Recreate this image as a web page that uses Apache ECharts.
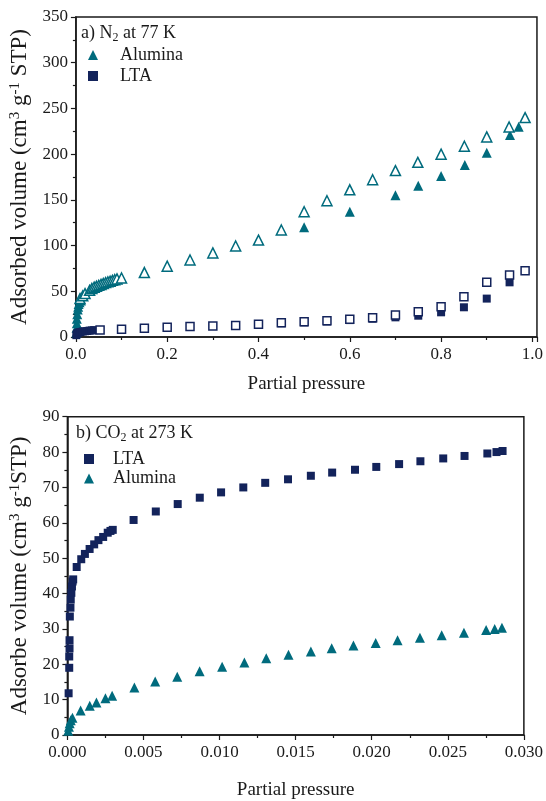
<!DOCTYPE html>
<html>
<head>
<meta charset="utf-8">
<script src="https://cdn.jsdelivr.net/npm/echarts@6/dist/echarts.min.js"></script>
<style>html,body{margin:0;padding:0;background:#fff}#c{width:546px;height:801px}</style>
</head>
<body>
<div id="c"></div>
<script>
// ---- Panel a) N2 at 77 K : [partial pressure, adsorbed volume] ----
const n2AluminaAds = [[0.001,5],[0.0015,10],[0.002,15],[0.002,20],[0.003,25],[0.004,30],[0.005,33],[0.006,36],[0.008,38],[0.011,40],
  [0.5,120],[0.6,137],[0.7,155],[0.75,165.5],[0.8,176],[0.852,188],[0.9,201.6],[0.951,221],[0.97,230]];
const n2AluminaDes = [[0.009,42],[0.015,45],[0.02,47.5],[0.03,51],[0.035,53],[0.04,54.5],[0.045,55.5],[0.05,56.5],[0.055,57.5],[0.06,58.5],
  [0.065,59.5],[0.07,60.3],[0.075,61],[0.08,62],[0.085,62.7],[0.09,63.5],[0.1,64.5],[0.15,70.5],[0.2,77.5],[0.25,84.2],[0.3,92],
  [0.35,99.5],[0.4,106],[0.45,117],[0.5,137],[0.55,149],[0.6,161],[0.65,172],[0.7,182],[0.749,191],[0.8,200],[0.851,208.6],
  [0.9,218.8],[0.949,229.7],[0.984,240]];
const n2LtaAds = [[0.001,2],[0.002,3.5],[0.004,4.5],[0.007,5],[0.01,5.5],[0.015,6],[0.02,6.3],[0.025,6.6],[0.03,7],[0.035,7.2],[0.04,7.5],
  [0.45,15],[0.5,16],[0.55,17],[0.6,18.5],[0.65,20],[0.7,21.5],[0.75,23.3],[0.8,27],[0.85,32.5],[0.9,42],[0.95,59.8],[0.984,72.5]];
const n2LtaDes = [[0.053,7.7],[0.1,8.4],[0.15,9.5],[0.2,10.6],[0.25,11.5],[0.3,12],[0.35,12.7],[0.4,14],[0.45,15.7],[0.5,16.8],
  [0.55,17.9],[0.6,19.3],[0.65,21],[0.7,24],[0.75,27.7],[0.8,33],[0.85,44],[0.9,59.8],[0.95,67.8],[0.984,72.5]];

// ---- Panel b) CO2 at 273 K ----
const co2Lta = [[0.00008,11.8],[0.00012,19],[0.00012,22.2],[0.00014,24.5],[0.00014,26.8],[0.00016,33.5],[0.0002,36],[0.00022,38.3],
  [0.00026,40.2],[0.0003,42],[0.00034,43.4],[0.00038,44],[0.00061,47.5],[0.00091,49.7],[0.00115,51.2],[0.00146,52.6],[0.00176,53.9],
  [0.00204,55.1],[0.00235,56],[0.00265,57.2],[0.00283,57.7],[0.00298,58],[0.00435,60.8],[0.00581,63.2],[0.00725,65.3],[0.0087,67.1],
  [0.0101,68.6],[0.01156,70],[0.013,71.3],[0.0145,72.3],[0.016,73.3],[0.0174,74.2],[0.0189,75],[0.0203,75.8],[0.0218,76.6],
  [0.0232,77.4],[0.0247,78.2],[0.0261,78.9],[0.0276,79.6],[0.0282,80],[0.0286,80.3]];
const co2Alumina = [[0.00005,1.2],[0.0001,2.3],[0.00015,3.3],[0.00022,4.2],[0.00033,4.9],[0.00087,6.9],[0.00147,8.3],[0.00191,9.2],
  [0.0025,10.4],[0.00294,11.1],[0.0044,13.4],[0.00577,15.1],[0.00722,16.5],[0.00869,18],[0.01017,19.3],[0.01163,20.5],[0.01307,21.7],
  [0.01453,22.7],[0.016,23.6],[0.01737,24.5],[0.0188,25.3],[0.02026,26],[0.0217,26.8],[0.02317,27.5],[0.0246,28.2],[0.02606,28.9],
  [0.02752,29.7],[0.02808,30],[0.02856,30.3]];

const TEAL = '#006b7d', NAVY = '#13235b', FONT = 'Liberation Serif', INK = '#1a1a1a';

const chart = echarts.init(document.getElementById('c'), null, {renderer: 'canvas'});

function xAx(grid, min, max, interval, digits, gap) {
  return {
    type: 'value', gridIndex: grid, min: min, max: max, interval: interval,
    name: 'Partial pressure', nameLocation: 'middle', nameGap: gap,
    nameTextStyle: {fontFamily: FONT, fontSize: 19, color: INK},
    axisLine: {show: true, onZero: false, lineStyle: {color: INK, width: 1.5}},
    axisTick: {show: true, inside: false, length: 5, lineStyle: {color: INK, width: 1.2}},
    minorTick: {show: true, splitNumber: 2, length: 3, lineStyle: {color: INK, width: 1.2}},
    splitLine: {show: false}, minorSplitLine: {show: false},
    axisLabel: {fontFamily: FONT, fontSize: 17, color: INK, margin: 9,
      formatter: v => (Math.abs(v / interval - Math.round(v / interval)) < 1e-6) ? v.toFixed(digits) : ''}
  };
}
function yAx(grid, max, interval, name, gap) {
  return {
    type: 'value', gridIndex: grid, min: 0, max: max, interval: interval,
    name: name, nameLocation: 'middle', nameGap: gap, nameRotate: 90,
    nameTextStyle: {fontFamily: FONT, fontSize: 23, color: INK,
      rich: {sup: {fontFamily: FONT, fontSize: 15, color: INK, verticalAlign: 'top', lineHeight: 24}}},
    axisLine: {show: true, lineStyle: {color: INK, width: 1.5}},
    axisTick: {show: true, inside: false, length: 5, lineStyle: {color: INK, width: 1.2}},
    minorTick: {show: true, splitNumber: 2, length: 3, lineStyle: {color: INK, width: 1.2}},
    splitLine: {show: false},
    axisLabel: {fontFamily: FONT, fontSize: 17, color: INK, margin: 8}
  };
}
function sc(name, x, y, data, symbol, size, color, open, z) {
  return {
    name: name, type: 'scatter', xAxisIndex: x, yAxisIndex: y, data: data,
    symbol: symbol, symbolSize: size, z: z,
    itemStyle: open ? {color: '#ffffff', borderColor: color, borderWidth: 1.5, opacity: 1} : {color: color, opacity: 1},
    emphasis: {disabled: true}
  };
}

chart.setOption({
  animation: false,
  backgroundColor: '#ffffff',
  grid: [
    {left: 74, top: 17, width: 464, height: 320, show: true, borderColor: INK, borderWidth: 1.5, backgroundColor: 'transparent'},
    {left: 66.7, top: 416.7, width: 458.3, height: 325, show: true, borderColor: INK, borderWidth: 1.5, backgroundColor: 'transparent'}
  ],
  title: [
    {text: 'a) N{s|2} at 77 K', left: 81, top: 22, padding: 0,
     textStyle: {fontFamily: FONT, fontSize: 18, fontWeight: 'normal', color: INK, lineHeight: 22,
       rich: {s: {fontFamily: FONT, fontSize: 12, color: INK, verticalAlign: 'bottom', lineHeight: 16}}}},
    {text: 'b) CO{s|2} at 273 K', left: 76, top: 422, padding: 0,
     textStyle: {fontFamily: FONT, fontSize: 18, fontWeight: 'normal', color: INK, lineHeight: 22,
       rich: {s: {fontFamily: FONT, fontSize: 12, color: INK, verticalAlign: 'bottom', lineHeight: 16}}}}
  ],
  legend: [
    {orient: 'vertical', left: 88, top: 46, padding: 0, itemGap: 3, itemWidth: 10, itemHeight: 10,
     data: [{name: 'Alumina', icon: 'triangle'}, {name: 'LTA', icon: 'rect'}],
     textStyle: {fontFamily: FONT, fontSize: 18, color: INK, lineHeight: 15, height: 15, padding: [0, 0, 0, 17]}},
    {orient: 'vertical', left: 84, top: 450, padding: 0, itemGap: 1.5, itemWidth: 10, itemHeight: 10,
     data: [{name: 'LTA ', icon: 'rect'}, {name: 'Alumina ', icon: 'triangle'}],
     textStyle: {fontFamily: FONT, fontSize: 18, color: INK, lineHeight: 15, height: 15, padding: [0, 0, 0, 14]}}
  ],
  xAxis: [xAx(0, 0, 1.01, 0.2, 1, 38), xAx(1, 0, 0.03, 0.005, 3, 46)],
  yAxis: [
    yAx(0, 350, 50, 'Adsorbed volume (cm{sup|3} g{sup|-1} STP)', 41),
    yAx(1, 90, 10, 'Adsorbe volume (cm{sup|3} g{sup|-1}STP)', 33)
  ],
  series: [
    sc('Alumina', 0, 0, n2AluminaAds, 'triangle', 10, TEAL, false, 2),
    sc('LTA', 0, 0, n2LtaAds, 'rect', 8, NAVY, false, 2),
    sc('Alumina desorption', 0, 0, n2AluminaDes, 'triangle', 10, TEAL, true, 3),
    sc('LTA desorption', 0, 0, n2LtaDes, 'rect', 8, NAVY, true, 3),
    sc('LTA ', 1, 1, co2Lta, 'rect', 8, NAVY, false, 2),
    sc('Alumina ', 1, 1, co2Alumina, 'triangle', 10, TEAL, false, 2)
  ]
});
</script>
</body>
</html>
